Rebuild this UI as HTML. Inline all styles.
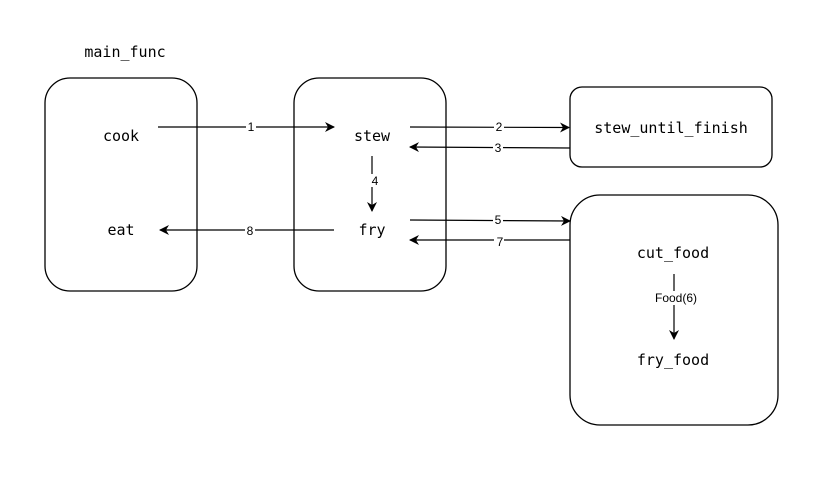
<!DOCTYPE html>
<html><head><meta charset="utf-8"><style>
html,body{margin:0;padding:0;background:#fff;}
svg{display:block;}
.m{font-family:"DejaVu Sans Mono","Liberation Mono",monospace;font-size:15px;fill:#000;}
.l{font-family:"Liberation Sans",sans-serif;font-size:12px;fill:#000;}
</style></head><body>
<svg width="828" height="480" viewBox="0 0 828 480" xmlns="http://www.w3.org/2000/svg">
<defs><marker id="a" markerWidth="10" markerHeight="10" refX="9" refY="5" orient="auto" markerUnits="userSpaceOnUse"><path d="M0,0 L10,5 L0,10 L3,5 z" fill="#000"/></marker></defs>
<g fill="none" stroke="#000" stroke-width="1.3">
<rect x="45" y="78" width="152" height="213" rx="25"/>
<rect x="294" y="78" width="152" height="213" rx="25"/>
<rect x="570" y="87" width="202" height="80" rx="12"/>
<rect x="570" y="195" width="208" height="230" rx="30"/>
<g stroke-width="1.2" marker-end="url(#a)">
<line x1="158" y1="127" x2="334" y2="127"/>
<line x1="410" y1="127" x2="569" y2="127.5"/>
<line x1="570" y1="148" x2="410" y2="147"/>
<line x1="372" y1="156" x2="372" y2="211"/>
<line x1="410" y1="220" x2="570" y2="221"/>
<line x1="570" y1="240" x2="410" y2="240"/>
<line x1="334" y1="230" x2="160" y2="230"/>
<line x1="674" y1="274" x2="674" y2="339"/>
</g></g>
<g fill="#fff">
<rect x="246" y="120" width="10" height="13"/>
<rect x="494" y="120" width="10" height="13"/>
<rect x="493" y="141" width="10" height="13"/>
<rect x="369" y="174" width="10" height="13"/>
<rect x="493" y="213" width="10" height="13"/>
<rect x="494" y="234" width="10" height="13"/>
<rect x="245" y="223" width="10" height="13"/>
<rect x="651" y="291" width="50" height="14"/>
</g>
<g class="l" text-anchor="middle">
<text x="251" y="131">1</text>
<text x="499" y="131">2</text>
<text x="498" y="152">3</text>
<text x="375" y="185">4</text>
<text x="498" y="224">5</text>
<text x="500" y="246">7</text>
<text x="250" y="235">8</text>
<text x="676" y="302">Food(6)</text>
</g>
<g class="m" text-anchor="middle">
<text x="125" y="57">main_func</text>
<text x="121" y="141">cook</text>
<text x="372" y="141">stew</text>
<text x="121" y="235">eat</text>
<text x="372" y="235">fry</text>
<text x="671" y="133">stew_until_finish</text>
<text x="673" y="258">cut_food</text>
<text x="673" y="365">fry_food</text>
</g>
</svg>
</body></html>
